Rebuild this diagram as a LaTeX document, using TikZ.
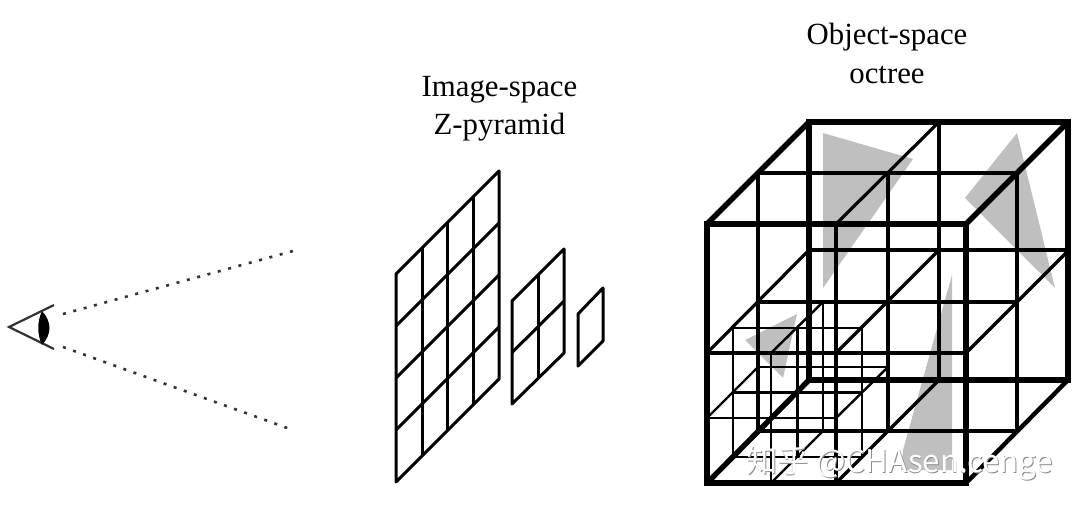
\documentclass[tikz,border=0pt]{standalone}
\usepackage{fontspec}
\setmainfont{Liberation Serif}
\newfontfamily\markfont{Noto Sans CJK SC}
\usepackage{tikz}

\tikzset{
  heavyline/.style={line width=5.4pt, line cap=round, line join=miter},
  midline/.style={line width=3.2pt},
  fineline/.style={line width=2.4pt},
  gridline/.style={line width=3pt, line join=round},
  blob/.style={fill=black!25, draw=none},
  captiontext/.style={font=\fontsize{30.8}{38.5}\selectfont, align=center, inner sep=0pt},
  marktext/.style={font=\markfont\fontsize{31.2}{31}\selectfont, inner sep=0pt}
}

\begin{document}
\begin{tikzpicture}[x=1pt, y=-1pt]
\useasboundingbox (0,0) rectangle (1080,511);

% Eye
\draw[line width=2.2pt, draw=black!80] (54,305) -- (9,327) -- (54,349);
\fill (42,311) .. controls (37,322) and (37,334) .. (42,345) .. controls (52,334) and (52,322) .. (42,311);
\coordinate (eyeup) at (63,314);
\coordinate (eyedown) at (63,347);
\coordinate (farup) at (293,251);
\coordinate (fardown) at (290,429);
\draw[line width=2.6pt, draw=black!80, dash pattern=on 3pt off 7.7pt] (eyeup) -- (farup);
\draw[line width=2.6pt, draw=black!80, dash pattern=on 3pt off 7.7pt] (eyedown) -- (fardown);

% Z-pyramid
% Level 0
\draw[gridline] (396,274) -- (499,171) -- (499,379) -- (396,482) -- cycle;
\draw[gridline] (422,248) -- (422,456);
\draw[gridline] (447.5,222.5) -- (447.5,430.5);
\draw[gridline] (473,197) -- (473,405);
\draw[gridline] (396,326) -- (499,223);
\draw[gridline] (396,378) -- (499,275);
\draw[gridline] (396,430) -- (499,327);
% Level 1
\draw[gridline] (512,301) -- (564,249) -- (564,353) -- (512,404) -- cycle;
\draw[gridline] (538,275) -- (538,378.5);
\draw[gridline] (512,352.5) -- (564,301);
% Level 2
\draw[gridline] (578,314) -- (603,288) -- (603,341) -- (578,366) -- cycle;

% Triangles in the octree
\fill[blob] (823,133) -- (913,159) -- (823,288) -- cycle;
\fill[blob] (1017,133) -- (965,198) -- (1055,288) -- cycle;
\fill[blob] (952,275) -- (903,450) -- (901,470) -- (952,470) -- cycle;
\fill[blob] (745,340) -- (797,314) -- (783,378) -- cycle;

% Smallest cells
\draw[fineline] (733,328) rectangle (862,457);
\draw[fineline] (758,302) rectangle (888,431);
\draw[fineline] (771,353) -- (771,483);
\draw[fineline] (707,418) -- (836,418);
\draw[fineline] (797.5,328) -- (797.5,457);
\draw[fineline] (733,392.5) -- (862,392.5);
\draw[fineline] (823,302) -- (823,431);
\draw[fineline] (758,367) -- (888,367);
\draw[fineline] (707,418) -- (758,367);
\draw[fineline] (771,353) -- (823,302);
\draw[fineline] (771,483) -- (823,431);
\draw[fineline] (836,418) -- (888,367);

% Octree middle lines
% Back face
\draw[midline] (939,122) -- (939,380);
\draw[midline] (809,250) -- (1069,250);
% Middle plane
\draw[midline] (758,173) rectangle (1017,431);
\draw[midline] (888,173) -- (888,431);
\draw[midline] (758,302) -- (1017,302);
% Front face
\draw[midline] (836,224) -- (836,483);
\draw[midline] (707,353) -- (966,353);
% Depth lines
\draw[midline] (836,224) -- (939,122);
\draw[midline] (707,353) -- (809,250);
\draw[midline] (836,353) -- (939,250);
\draw[midline] (966,353) -- (1069,250);
\draw[midline] (836,483) -- (939,380);

% Octree outer edges
\draw[heavyline] (809,122) rectangle (1068,380);
\draw[heavyline] (707,224) rectangle (966,483);
\draw[heavyline] (707,224) -- (809,122);
\draw[heavyline] (966,224) -- (1068,122);
\draw[heavyline] (707,483) -- (809,380);
\draw[heavyline, line width=4.4pt] (966,483) -- (1068,380);

% Labels
\node[captiontext] (pyramidlabel) at (499.5,108.5) {Image-space\\Z-pyramid};
\node[captiontext] (octreelabel) at (887,53.5) {Object-space\\octree};

% Watermark
\node[marktext, text=black!45] (markshade) at (900.8,463.8) {知乎 @CHAsen.cenge};
\node[marktext, text=white] (marktop) at (900,463) {知乎 @CHAsen.cenge};
\end{tikzpicture}
\end{document}
